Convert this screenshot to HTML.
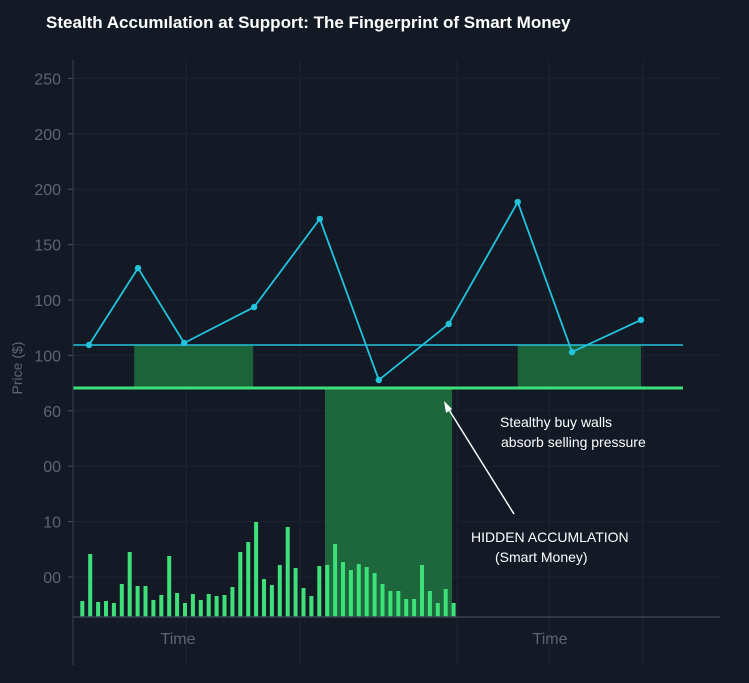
<!DOCTYPE html>
<html><head><meta charset="utf-8"><style>
body{margin:0;background:#121824;}
svg{display:block;font-family:"Liberation Sans",sans-serif;}
</style></head><body>
<svg id="chart" width="749" height="683" viewBox="0 0 749 683">
<rect width="749" height="683" fill="#131a26"/>
<text x="46" y="28" fill="#ffffff" font-size="17" font-weight="bold">Stealth Accumılation at Support: The Fingerprint of Smart Money</text>
<g id="grid"></g>
<g id="zones"></g>
<g id="vol"></g>
<g id="price"></g>
<g id="axes"></g>
<text x="22" y="368" fill="#5d6573" font-size="14" transform="rotate(-90 22 368)" text-anchor="middle">Price ($)</text>
<text x="178" y="644" fill="#5d6573" font-size="16" text-anchor="middle">Time</text>
<text x="550" y="644" fill="#5d6573" font-size="16" text-anchor="middle">Time</text>
<line x1="514" y1="514" x2="446" y2="405" stroke="#ffffff" stroke-width="1.5"/>
<polygon points="444,401 452,409 446,413" fill="#ffffff"/>
<text x="500" y="427" fill="#ffffff" font-size="14">Stealthy buy walls</text>
<text x="501" y="447" fill="#ffffff" font-size="14">absorb selling pressure</text>
<text x="471" y="542" fill="#ffffff" font-size="14">HIDDEN ACCUMLATION</text>
<text x="495" y="562" fill="#ffffff" font-size="14">(Smart Money)</text>
</svg>
<script>
const tickLabels=["00","10","00","60","100","100","150","200","200","250"];
const tickValues=[0,25,50,75,100,125,150,175,200,225];
const priceTimes=[0,1.03,2.0,3.47,4.85,6.09,7.56,9.01,10.15,11.6];
const priceValues=[104.7,139.4,105.6,121.8,161.6,88.9,114.2,169.2,101.5,116.0];
const resistanceLevel=104.7;
const supportLevel=85.3;
const volumes=[16,63,15,16,14,33,65,31,31,17,22,61,24,14,23,17,23,21,22,30,65,75,95,38,32,52,90,49,29,21,51,52,73,55,47,53,50,44,33,26,26,18,18,52,26,14,28,14];
const smallZones=[[0.95,3.45],[9.01,11.6]];
const bigZone=[4.96,7.63];

const NS="http://www.w3.org/2000/svg";
const yP=v=>577-v*55.4/25;
const xT=t=>89+t*(641-89)/11.6;
const xV=i=>82.3+i*7.9;
const yV=v=>617-v;
function mk(tag,attrs,parent){const e=document.createElementNS(NS,tag);for(const k in attrs)e.setAttribute(k,attrs[k]);document.getElementById(parent).appendChild(e);return e;}

[73,186,300,457,549,643].forEach(x=>{const l=mk('line',{x1:x,y1:60,x2:x,y2:665,stroke:'#1e2532','stroke-width':1},'grid');

});
tickValues.forEach((v,i)=>{const y=yP(v);
const g=mk('line',{x1:73,y1:y,x2:720,y2:y,stroke:'#1c2330','stroke-width':1},'grid');


const t=mk('line',{x1:68,y1:y,x2:73,y2:y,stroke:'#4a5260'},'axes');


const tx=mk('text',{x:61,y:y+6,fill:'#5d6573','font-size':16,'text-anchor':'end'},'axes');
tx.textContent=tickLabels[i];

});
const ya=mk('line',{x1:73,y1:60,x2:73,y2:665,stroke:'#3a4250'},'axes');


const xa=mk('line',{x1:73,y1:617,x2:720,y2:617,stroke:'#3a4250','stroke-width':1.5},'axes');



smallZones.forEach(z=>{const r=mk('rect',{x:xT(z[0]),y:yP(resistanceLevel),width:xT(z[1])-xT(z[0]),height:yP(supportLevel)-yP(resistanceLevel),fill:'#1f6b3d',opacity:0.9},'zones');

});
const bz=mk('rect',{x:xT(bigZone[0]),y:yP(supportLevel),width:xT(bigZone[1])-xT(bigZone[0]),height:617-yP(supportLevel),fill:'#1f6b3d',opacity:0.95},'zones');



volumes.forEach((v,i)=>{const r=mk('rect',{x:xV(i)-2,y:yV(v),width:4,height:617-yV(v),fill:'#3ee07a'},'vol');

});

const rl=mk('line',{x1:73,y1:yP(resistanceLevel),x2:683,y2:yP(resistanceLevel),stroke:'#22c3dc','stroke-width':1.5},'price');


const sl=mk('line',{x1:73,y1:yP(supportLevel),x2:683,y2:yP(supportLevel),stroke:'#3ee07a','stroke-width':3},'price');



const pts=priceValues.map((v,i)=>xT(priceTimes[i])+','+yP(v)).join(' ');
const pl=mk('polyline',{points:pts,fill:'none',stroke:'#22c3dc','stroke-width':1.8},'price');


priceValues.forEach((v,i)=>{const c=mk('circle',{cx:xT(priceTimes[i]),cy:yP(v),r:3.2,fill:'#22c3dc'},'price');

});
</script>
</body></html>
